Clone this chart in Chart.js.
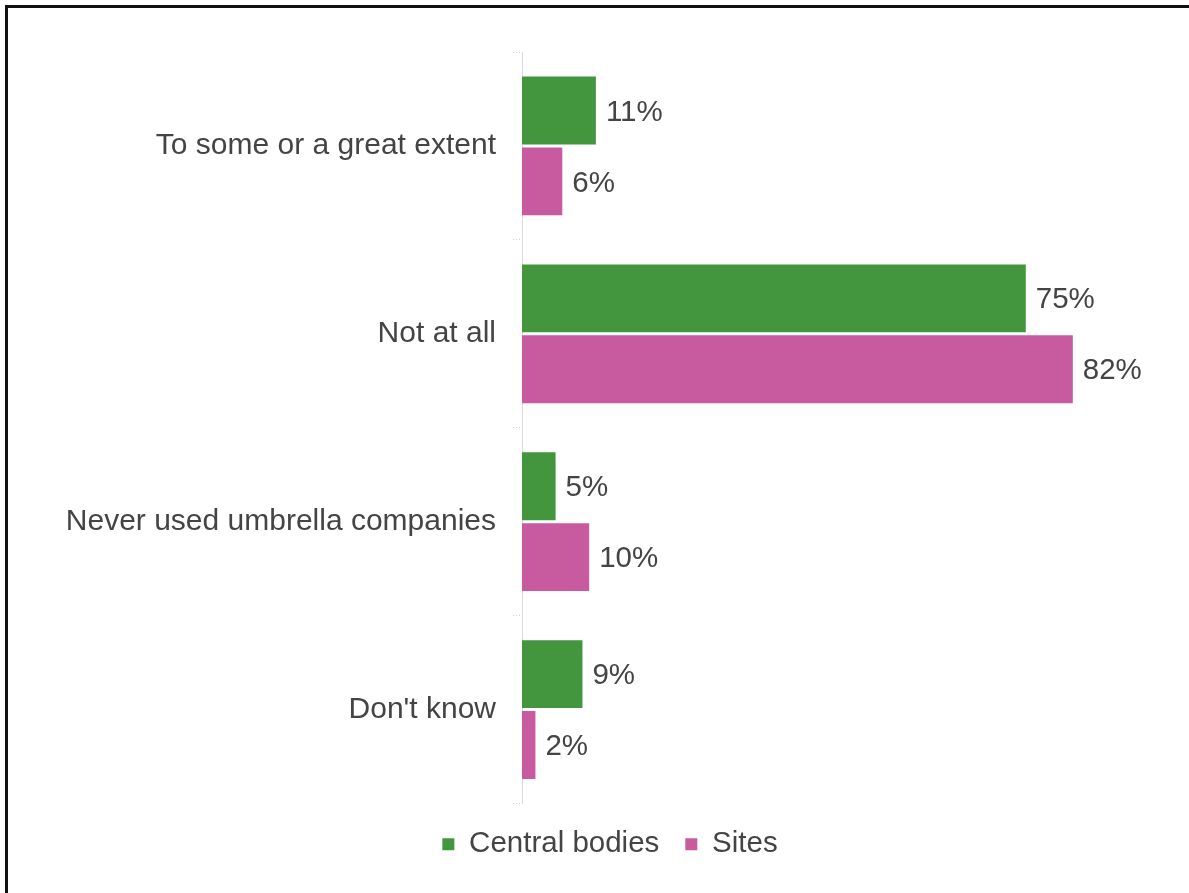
<!DOCTYPE html>
<html>
<head>
<meta charset="utf-8">
<title>Umbrella companies</title>
<script src="https://cdn.jsdelivr.net/npm/chart.js@4.4.1/dist/chart.umd.min.js"></script>
<style>
  html, body { margin: 0; padding: 0; background: #fff; overflow: hidden; }
  #frame {
    position: absolute; left: 5px; top: 5px;
    width: 1400px; height: 1100px;
    border: 3px solid #111;
  }
  #umbrellaChart { position: absolute; left: 0; top: 0; }
</style>
</head>
<body>
<div id="frame"></div>
<canvas id="umbrellaChart" width="1189" height="893"></canvas>
<script>
// answers per category, in percent
const categories = ['To some or a great extent', 'Not at all', 'Never used umbrella companies', "Don't know"];
const centralBodies = [11, 75, 5, 9];
const sites = [6, 82, 10, 2];

const GREEN = '#43953E';
const PINK = '#C85AA0';
const TEXT = '#444444';
const FONT = '"Liberation Sans", Arial, Helvetica, sans-serif';

// percent labels just past the end of each bar
const barValueLabels = {
  id: 'barValueLabels',
  afterDatasetsDraw(chart) {
    const c = chart.ctx;
    c.save();
    c.font = '29.5px ' + FONT;
    c.fillStyle = TEXT;
    c.textAlign = 'left';
    c.textBaseline = 'middle';
    chart.data.datasets.forEach((ds, i) => {
      chart.getDatasetMeta(i).data.forEach((bar, j) => {
        c.fillText(ds.data[j] + '%', bar.x + 10, bar.y + 2);
      });
    });
    c.restore();
  }
};

const ctx = document.getElementById('umbrellaChart').getContext('2d');

new Chart(ctx, {
  type: 'bar',
  data: {
    labels: categories,
    datasets: [
      {
        label: 'Central bodies',
        data: centralBodies,
        backgroundColor: GREEN,
        categoryPercentage: 0.755,
        barPercentage: 0.958
      },
      {
        label: 'Sites',
        data: sites,
        backgroundColor: PINK,
        categoryPercentage: 0.755,
        barPercentage: 0.958
      }
    ]
  },
  options: {
    indexAxis: 'y',
    responsive: false,
    animation: false,
    layout: {
      padding: { left: 33, right: 2, top: 52, bottom: 24 }
    },
    plugins: {
      tooltip: { enabled: false },
      legend: {
        position: 'bottom',
        labels: {
          color: TEXT,
          boxWidth: 12,
          boxHeight: 12,
          padding: 26,
          font: { family: FONT, size: 29.5 }
        }
      }
    },
    scales: {
      x: {
        display: false,
        min: 0,
        max: 99
      },
      y: {
        afterFit(scale) { scale.width = 489; },
        border: { display: true, color: '#d9d9d9', dash: [1, 2], width: 1 },
        grid: {
          drawOnChartArea: false,
          drawTicks: true,
          tickLength: 9,
          color: '#d0d0d0',
          tickBorderDash: [1, 2]
        },
        ticks: {
          color: TEXT,
          padding: 17,
          font: { family: FONT, size: 30 }
        }
      }
    }
  },
  plugins: [barValueLabels]
});
</script>
</body>
</html>
